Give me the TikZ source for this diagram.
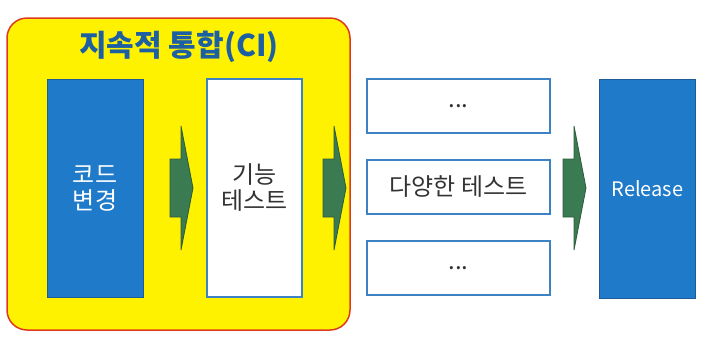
\documentclass[tikz,border=0pt]{standalone}
\usepackage{fontspec}
\setmainfont{Noto Sans CJK KR}
\definecolor{ciyellow}{HTML}{FFF200}
\definecolor{cired}{HTML}{E03A1E}
\definecolor{cititle}{HTML}{1C5FA3}
\definecolor{boxblue}{HTML}{1F7BC9}
\definecolor{boxline}{HTML}{1D5C98}
\definecolor{testline}{HTML}{3C82C4}
\definecolor{arrgreen}{HTML}{3A7B52}
\definecolor{arrline}{HTML}{2C5A3C}
\tikzset{
  bluebox/.style={draw=boxline, fill=boxblue, line width=1pt, text=white,
    minimum width=96pt, minimum height=218pt, inner sep=0pt, align=center,
    font=\fontsize{24}{26}\selectfont},
  testbox/.style={draw=testline, fill=white, line width=1.5pt, text=black!80,
    inner sep=0pt, align=center, font=\fontsize{24}{26}\selectfont},
  arrowbody/.style={draw=arrline, fill=arrgreen, line width=0.8pt},
  flowarrow/.pic={
    \draw[arrowbody] (0,-29) -- (11,-29) -- (11,-62) -- (23,0) -- (11,62)
      -- (11,29) -- (0,29) -- cycle;}
}
\begin{document}
\begin{tikzpicture}[x=1pt, y=-1pt]
\useasboundingbox (0,0) rectangle (723,349);

% Kasten CI
\draw[cired, fill=ciyellow, line width=1.5pt, rounded corners=20pt]
  (7,18) rectangle (350,330);
\node[text=cititle, font=\fontsize{30}{32}\selectfont\bfseries] (title) at (179,47) {지속적 통합(CI)};

\node[bluebox] (code) at (95,188) {코드\\변경};
\node[testbox, minimum width=95pt, minimum height=218pt] (func) at (254.5,188) {기능\\테스트};

% Weitere Tests
\foreach \y/\txt [count=\i] in {106/{...}, 187/{다양한 테스트}, 268/{...}}
  \node[testbox, minimum width=183pt, minimum height=54pt] (test\i) at (458.5,\y) {\txt};

\node[bluebox, minimum height=219pt, font=\fontsize{20}{24}\selectfont] (release) at (647.5,188.5) {Release};

% Pfeile
\pic (arr1) at (170,188) {flowarrow};
\pic (arr2) at (323,188) {flowarrow};
\pic (arr3) at (563,188) {flowarrow};
\end{tikzpicture}
\end{document}
